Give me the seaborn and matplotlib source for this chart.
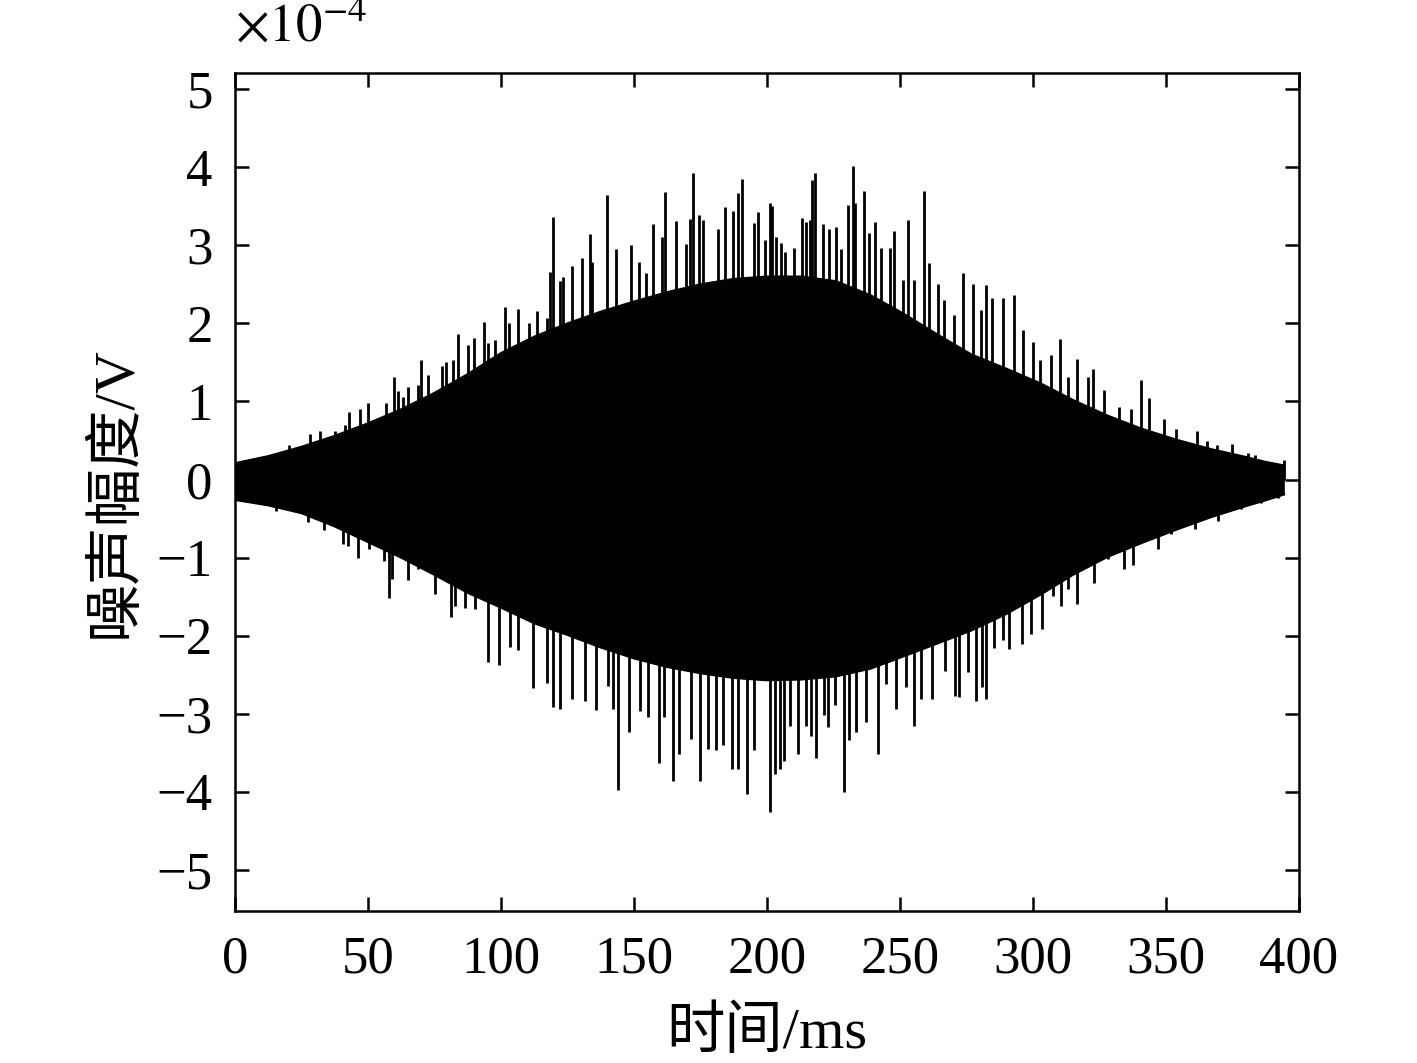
import numpy as np
import pandas as pd
import seaborn as sns
import matplotlib
matplotlib.use("Agg")
import matplotlib.pyplot as plt

# ---- data (amplitude in units of 1e-4 V, time in ms) ----
# dense core of the noise record
env_time = [0, 12.5, 25, 37.5, 50, 62.5, 75, 87.5, 100, 112.5, 125, 137.5, 150, 162.5,
            175, 187.5, 200, 213, 226, 239, 251.6, 264, 277, 290, 303, 315, 328, 341,
            354, 367, 380, 387, 394.5]
env_upper = [0.21, 0.30, 0.42, 0.56, 0.72, 0.90, 1.11, 1.35, 1.62, 1.83, 2.00, 2.15, 2.28,
             2.40, 2.50, 2.57, 2.60, 2.60, 2.54, 2.36, 2.12, 1.86, 1.60, 1.42, 1.23, 1.02,
             0.82, 0.65, 0.51, 0.39, 0.29, 0.23, 0.18]
env_lower = [-0.26, -0.33, -0.43, -0.60, -0.80, -1.00, -1.22, -1.45, -1.64, -1.84, -1.99,
             -2.15, -2.29, -2.40, -2.48, -2.54, -2.57, -2.56, -2.52, -2.42, -2.26, -2.10,
             -1.93, -1.72, -1.47, -1.22, -0.99, -0.81, -0.64, -0.48, -0.34, -0.27, -0.19]

# positive peaks
up_spike_time = [20.5, 28.4, 32.0, 37.7, 41.5, 43.0, 46.9, 50.2, 56.9, 59.8, 61.4, 63.3,
                 65.2, 68.7, 70.1, 72.6, 78.0, 79.5, 82.1, 84.0, 87.6, 90.0, 93.6, 95.2,
                 97.8, 101.4, 102.9, 106.4, 110.6, 113.5, 117.2, 118.6, 119.7, 122.2,
                 123.5, 126.6, 130.4, 133.6, 134.2, 139.7, 143.2, 148.9, 151.9, 154.7,
                 157.0, 160.4, 161.7, 165.9, 169.4, 170.9, 172.2, 174.5, 175.8, 181.5,
                 184.4, 187.3, 189.0, 190.6, 195.0, 196.6, 199.2,
                 201.1, 202.0, 203.3, 205.4, 206.9, 210.1, 213.3, 214.8, 216.1, 217.1,
                 218.1, 221.2, 223.5, 225.8, 228.0, 230.5, 232.5, 233.1, 236.3, 238.2,
                 240.5, 242.7, 246.3, 247.8, 251.0, 252.9, 255.2, 259.1, 260.8, 264.2,
                 266.6, 270.2, 273.8, 277.5, 280.4, 282.3, 284.5, 288.7, 292.8, 296.4,
                 300.0, 302.8, 306.6, 310.2, 313.0, 316.6, 320.7, 322.6, 326.8, 332.2,
                 336.7, 340.6, 343.7, 349.4, 353.9, 361.8, 365.4, 369.3, 375.0, 380.8,
                 383.3, 388.4, 394.2]
up_spike_value = [0.44, 0.59, 0.62, 0.62, 0.70, 0.87, 0.90, 0.98, 0.98, 1.32, 1.13, 1.06,
                  1.19, 1.21, 1.53, 1.34, 1.45, 1.50, 1.53, 1.86, 1.72, 1.81, 2.02, 1.75,
                  1.79, 2.21, 2.01, 2.18, 2.00, 2.16, 2.07, 2.66, 3.36, 2.54,
                  2.59, 2.74, 2.84, 3.15, 2.79, 3.65, 2.95, 3.01, 2.79, 2.65,
                  3.27, 3.11, 3.68, 3.31, 3.02, 3.34, 3.92, 3.39, 3.33, 3.21,
                  3.49, 3.44, 3.67, 3.85, 3.29, 3.43, 3.07,
                  3.54, 3.50, 3.10, 3.03, 2.91, 2.96, 3.35, 3.30, 3.32, 3.84,
                  3.92, 3.27, 3.21, 3.24, 2.95, 3.52, 4.01, 3.54, 3.70, 3.16,
                  3.30, 2.96, 2.97, 3.18, 2.56, 3.33, 2.56, 3.69, 2.77, 2.51,
                  2.30, 2.11, 2.64, 2.50, 2.17, 2.49, 2.33, 2.32, 2.36, 1.91,
                  1.76, 1.53, 1.59, 1.80, 1.32, 1.54, 1.32, 1.41, 1.15, 0.93,
                  0.91, 1.27, 1.05, 0.78, 0.65, 0.62, 0.50, 0.44, 0.45, 0.34,
                  0.32, 0.23, 0.25]

# negative peaks
down_spike_time = [15.3, 27.5, 33.5, 40.7, 42.6, 46.4, 50.5, 55.9, 58.0, 59.1, 65.2, 69.0,
                   75.2, 81.4, 82.7, 86.6, 90.1, 95.0, 99.1, 103.3, 106.4, 111.9, 117.4,
                   119.7, 122.1, 126.6, 131.7, 135.8, 140.4, 142.2, 144.0, 148.0, 152.1,
                   155.3, 159.4, 161.3, 164.7, 166.8, 171.3, 174.9, 177.7, 180.9, 183.5,
                   186.7, 189.2, 192.4, 195.0,
                   201.1, 203.1, 205.0, 206.3, 208.8, 211.8, 214.6, 216.5, 218.4, 221.6,
                   223.1, 225.4, 228.9, 230.8, 233.5, 237.3, 241.8, 244.6, 248.4, 252.3,
                   255.1, 258.0, 261.9, 267.0, 270.6, 272.1, 275.7, 278.5, 281.0, 282.3,
                   285.5, 288.7, 291.0, 295.7, 299.2, 303.4, 307.6, 310.7, 313.3, 316.6,
                   323.0, 328.1, 334.1, 337.5, 346.9, 352.0, 361.0, 369.5, 378.2, 385.9,
                   392.3]
down_spike_value = [-0.40, -0.54, -0.64, -0.82, -0.85, -1.00, -0.89, -1.04, -1.52, -1.27,
                    -1.28, -1.15, -1.47, -1.76, -1.62, -1.64, -1.66, -2.33, -2.38, -2.15,
                    -2.18, -2.67, -2.60, -2.91, -2.94, -2.81, -2.84, -2.95, -2.64, -2.94,
                    -3.98, -3.23, -2.96, -3.04, -3.63, -3.04, -3.86, -3.52, -3.32, -3.86,
                    -3.45, -3.46, -3.40, -3.71, -3.71, -4.02, -3.46,
                    -4.26, -3.77, -3.70, -3.60, -3.15, -3.51, -3.15, -3.28, -3.57, -3.02,
                    -3.17, -2.89, -4.00, -3.34, -3.23, -3.10, -3.52, -2.62, -2.94, -2.66,
                    -3.15, -2.81, -2.81, -2.45, -2.77, -2.79, -2.47, -2.83, -2.66, -2.81,
                    -2.16, -2.06, -2.17, -2.11, -1.98, -1.91, -1.49, -1.62, -1.40, -1.59,
                    -1.32, -1.02, -1.15, -1.09, -0.89, -0.70, -0.63, -0.53, -0.38, -0.30,
                    -0.23]

x_ticks = [0, 50, 100, 150, 200, 250, 300, 350, 400]
y_ticks = [-5, -4, -3, -2, -1, 0, 1, 2, 3, 4, 5]

sns.set_theme(style="ticks")
plt.rcParams["font.family"] = ["Liberation Serif", "Noto Sans CJK SC"]
plt.rcParams["mathtext.fontset"] = "stix"

fig = plt.figure(figsize=(14.17, 10.63), dpi=100)
ax = fig.add_axes([0.1658, 0.1433, 0.7509, 0.7883])

env = pd.DataFrame({"t": env_time, "up": env_upper, "lo": env_lower})
ax.fill_between(env["t"], env["lo"], env["up"], color="black", lw=0)
sns.lineplot(data=env, x="t", y="up", color="black", lw=1.5, ax=ax)
sns.lineplot(data=env, x="t", y="lo", color="black", lw=1.5, ax=ax)

ax.vlines(up_spike_time, 0, up_spike_value, color="black", lw=2.0)
ax.vlines(down_spike_time, 0, down_spike_value, color="black", lw=2.0)

ax.set_xlim(0, 400)
ax.set_ylim(-5.52, 5.21)
ax.set_xticks(x_ticks)
ax.set_yticks(y_ticks)
ax.set_xticklabels([str(v) for v in x_ticks])
ax.set_yticklabels([str(v).replace("-", "\u2212") for v in y_ticks])
ax.tick_params(direction="in", length=10, width=1.8, top=True, right=True,
               labelsize=38, colors="black")
ax.tick_params(axis="x", pad=18)
ax.tick_params(axis="y", pad=16)
for s in ax.spines.values():
    s.set_visible(True)
    s.set_linewidth(1.8)
    s.set_color("black")

ax.set_xlabel("时间/ms", fontsize=42, labelpad=16, color="black")
ax.set_ylabel("噪声幅度/V", fontsize=42, labelpad=10, color="black")
ax.text(0.0, 1.025, r"$\times 10^{-4}$", transform=ax.transAxes, fontsize=38,
        ha="left", va="bottom", color="black")

fig.savefig("out.png", dpi=100, facecolor="white")
